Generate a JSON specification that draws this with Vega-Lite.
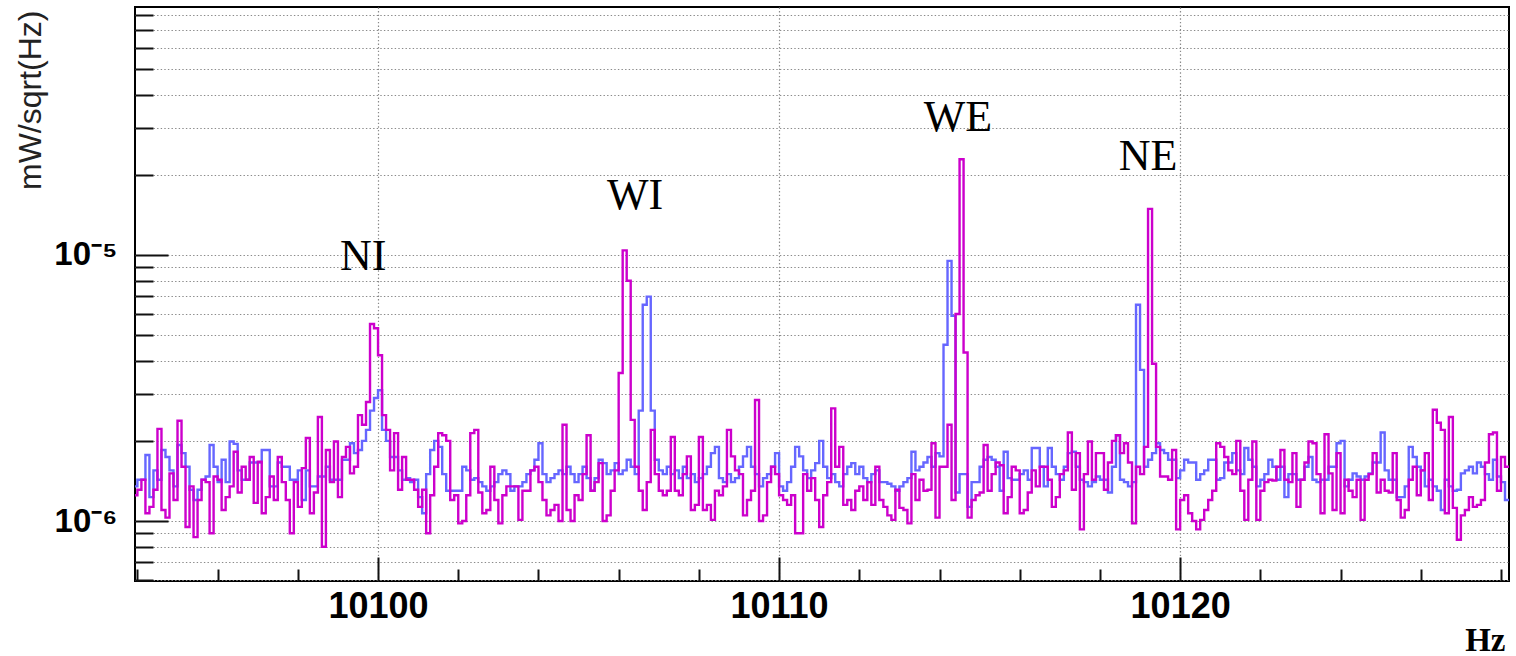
{
"$schema": "https://vega.github.io/schema/vega-lite/v6.json",
"width": 1374, "height": 574,
"autosize": {"type": "none"},
"padding": {"left": 135, "top": 7, "right": 7, "bottom": 75},
"background": "white",
"config": {
 "view": {"stroke": "#000", "strokeWidth": 2},
 "axis": {"domain": false, "gridColor": "#8a8a8a", "gridDash": [1.4, 2.2], "gridWidth": 1.2, "gridOpacity": 1, "tickColor": "#111", "tickWidth": 2}
},
"data": {"values": [
{"f":10093.9,"b":1.35e-6,"m":1.25e-6},{"f":10094.0,"b":1.43e-6,"m":1.31e-6},{"f":10094.1,"b":1.43e-6,"m":1.43e-6},{"f":10094.2,"b":1.77e-6,"m":1.07e-6},{"f":10094.3,"b":1.23e-6,"m":1.13e-6},
{"f":10094.4,"b":1.55e-6,"m":1.31e-6},{"f":10094.5,"b":1.43e-6,"m":2.22e-6},{"f":10094.6,"b":1.85e-6,"m":1.10e-6},{"f":10094.7,"b":1.74e-6,"m":1.03e-6},{"f":10094.8,"b":1.55e-6,"m":1.51e-6},
{"f":10094.9,"b":1.35e-6,"m":1.20e-6},{"f":10095.0,"b":1.93e-6,"m":2.38e-6},{"f":10095.1,"b":1.80e-6,"m":1.60e-6},{"f":10095.2,"b":1.60e-6,"m":0.95e-6},{"f":10095.3,"b":1.31e-6,"m":1.35e-6},
{"f":10095.4,"b":1.20e-6,"m":0.87e-6},{"f":10095.5,"b":1.31e-6,"m":1.20e-6},{"f":10095.6,"b":1.43e-6,"m":1.43e-6},{"f":10095.7,"b":1.47e-6,"m":1.40e-6},{"f":10095.8,"b":1.93e-6,"m":0.90e-6},
{"f":10095.9,"b":1.60e-6,"m":1.47e-6},{"f":10096.0,"b":1.40e-6,"m":1.43e-6},{"f":10096.1,"b":1.70e-6,"m":1.10e-6},{"f":10096.2,"b":1.40e-6,"m":1.23e-6},{"f":10096.3,"b":1.99e-6,"m":1.35e-6},
{"f":10096.4,"b":1.95e-6,"m":1.82e-6},{"f":10096.5,"b":1.55e-6,"m":1.28e-6},{"f":10096.6,"b":1.43e-6,"m":1.60e-6},{"f":10096.7,"b":1.43e-6,"m":1.43e-6},{"f":10096.8,"b":1.66e-6,"m":1.74e-6},
{"f":10096.9,"b":1.66e-6,"m":1.17e-6},{"f":10097.0,"b":1.66e-6,"m":1.67e-6},{"f":10097.1,"b":1.85e-6,"m":1.07e-6},{"f":10097.2,"b":1.85e-6,"m":1.23e-6},{"f":10097.3,"b":1.35e-6,"m":1.47e-6},
{"f":10097.4,"b":1.35e-6,"m":1.20e-6},{"f":10097.5,"b":1.66e-6,"m":1.74e-6},{"f":10097.6,"b":1.60e-6,"m":1.40e-6},{"f":10097.7,"b":1.60e-6,"m":1.20e-6},{"f":10097.8,"b":1.43e-6,"m":0.90e-6},
{"f":10097.9,"b":1.43e-6,"m":1.40e-6},{"f":10098.0,"b":1.55e-6,"m":1.13e-6},{"f":10098.1,"b":1.20e-6,"m":1.58e-6},{"f":10098.2,"b":1.55e-6,"m":2.05e-6},{"f":10098.3,"b":1.35e-6,"m":1.07e-6},
{"f":10098.4,"b":1.35e-6,"m":1.28e-6},{"f":10098.5,"b":1.47e-6,"m":2.46e-6},{"f":10098.6,"b":1.47e-6,"m":0.80e-6},{"f":10098.7,"b":1.60e-6,"m":1.85e-6},{"f":10098.8,"b":1.43e-6,"m":1.40e-6},
{"f":10098.9,"b":1.43e-6,"m":1.99e-6},{"f":10099.0,"b":1.43e-6,"m":1.23e-6},{"f":10099.1,"b":1.70e-6,"m":1.74e-6},{"f":10099.2,"b":1.70e-6,"m":1.90e-6},{"f":10099.3,"b":1.96e-6,"m":1.51e-6},
{"f":10099.4,"b":1.80e-6,"m":1.60e-6},{"f":10099.5,"b":1.85e-6,"m":2.50e-6},{"f":10099.6,"b":2.00e-6,"m":2.30e-6},{"f":10099.7,"b":2.20e-6,"m":2.80e-6},{"f":10099.8,"b":2.60e-6,"m":5.50e-6},
{"f":10099.9,"b":2.90e-6,"m":5.30e-6},{"f":10100.0,"b":3.10e-6,"m":4.20e-6},{"f":10100.1,"b":2.20e-6,"m":2.50e-6},{"f":10100.2,"b":2.00e-6,"m":2.20e-6},{"f":10100.3,"b":1.74e-6,"m":1.55e-6},
{"f":10100.4,"b":1.74e-6,"m":2.14e-6},{"f":10100.5,"b":1.55e-6,"m":1.31e-6},{"f":10100.6,"b":1.43e-6,"m":1.74e-6},{"f":10100.7,"b":1.45e-6,"m":1.43e-6},{"f":10100.8,"b":1.40e-6,"m":1.43e-6},
{"f":10100.9,"b":1.43e-6,"m":1.31e-6},{"f":10101.0,"b":1.23e-6,"m":1.13e-6},{"f":10101.1,"b":1.07e-6,"m":1.31e-6},{"f":10101.2,"b":1.50e-6,"m":0.90e-6},{"f":10101.3,"b":1.85e-6,"m":1.25e-6},
{"f":10101.4,"b":2.00e-6,"m":1.60e-6},{"f":10101.5,"b":1.90e-6,"m":2.14e-6},{"f":10101.6,"b":1.50e-6,"m":2.10e-6},{"f":10101.7,"b":1.30e-6,"m":2.00e-6},{"f":10101.8,"b":1.30e-6,"m":1.20e-6},
{"f":10101.9,"b":1.30e-6,"m":1.25e-6},{"f":10102.0,"b":1.30e-6,"m":0.98e-6},{"f":10102.1,"b":1.60e-6,"m":1.00e-6},{"f":10102.2,"b":1.55e-6,"m":1.25e-6},{"f":10102.3,"b":1.43e-6,"m":2.14e-6},
{"f":10102.4,"b":1.45e-6,"m":2.20e-6},{"f":10102.5,"b":1.40e-6,"m":1.28e-6},{"f":10102.6,"b":1.35e-6,"m":1.07e-6},{"f":10102.7,"b":1.30e-6,"m":1.10e-6},{"f":10102.8,"b":1.35e-6,"m":1.60e-6},
{"f":10102.9,"b":1.40e-6,"m":1.20e-6},{"f":10103.0,"b":1.50e-6,"m":0.98e-6},{"f":10103.1,"b":1.55e-6,"m":1.25e-6},{"f":10103.2,"b":1.50e-6,"m":1.35e-6},{"f":10103.3,"b":1.30e-6,"m":1.35e-6},
{"f":10103.4,"b":1.35e-6,"m":1.35e-6},{"f":10103.5,"b":1.35e-6,"m":1.01e-6},{"f":10103.6,"b":1.40e-6,"m":1.30e-6},{"f":10103.7,"b":1.50e-6,"m":1.30e-6},{"f":10103.8,"b":1.55e-6,"m":1.55e-6},
{"f":10103.9,"b":1.70e-6,"m":1.60e-6},{"f":10104.0,"b":1.96e-6,"m":1.40e-6},{"f":10104.1,"b":1.50e-6,"m":1.20e-6},{"f":10104.2,"b":1.40e-6,"m":1.05e-6},{"f":10104.3,"b":1.45e-6,"m":1.10e-6},
{"f":10104.4,"b":1.50e-6,"m":1.15e-6},{"f":10104.5,"b":1.55e-6,"m":1.00e-6},{"f":10104.6,"b":1.50e-6,"m":2.30e-6},{"f":10104.7,"b":1.60e-6,"m":1.10e-6},{"f":10104.8,"b":1.50e-6,"m":1.00e-6},
{"f":10104.9,"b":1.40e-6,"m":1.25e-6},{"f":10105.0,"b":1.50e-6,"m":1.20e-6},{"f":10105.1,"b":1.60e-6,"m":1.50e-6},{"f":10105.2,"b":1.45e-6,"m":2.10e-6},{"f":10105.3,"b":1.30e-6,"m":1.30e-6},
{"f":10105.4,"b":1.45e-6,"m":1.40e-6},{"f":10105.5,"b":1.70e-6,"m":1.65e-6},{"f":10105.6,"b":1.65e-6,"m":1.00e-6},{"f":10105.7,"b":1.50e-6,"m":1.05e-6},{"f":10105.8,"b":1.55e-6,"m":1.30e-6},
{"f":10105.9,"b":1.65e-6,"m":1.55e-6},{"f":10106.0,"b":1.50e-6,"m":3.60e-6},{"f":10106.1,"b":1.55e-6,"m":1.04e-5},{"f":10106.2,"b":1.70e-6,"m":8.00e-6},{"f":10106.3,"b":1.60e-6,"m":2.40e-6},
{"f":10106.4,"b":1.50e-6,"m":1.60e-6},{"f":10106.5,"b":2.60e-6,"m":1.30e-6},{"f":10106.6,"b":6.50e-6,"m":1.10e-6},{"f":10106.7,"b":6.97e-6,"m":1.40e-6},{"f":10106.8,"b":2.60e-6,"m":2.20e-6},
{"f":10106.9,"b":1.70e-6,"m":1.50e-6},{"f":10107.0,"b":1.55e-6,"m":1.30e-6},{"f":10107.1,"b":1.50e-6,"m":1.25e-6},{"f":10107.2,"b":1.60e-6,"m":1.30e-6},{"f":10107.3,"b":1.50e-6,"m":2.07e-6},
{"f":10107.4,"b":1.55e-6,"m":1.30e-6},{"f":10107.5,"b":1.45e-6,"m":1.25e-6},{"f":10107.6,"b":1.60e-6,"m":1.50e-6},{"f":10107.7,"b":1.45e-6,"m":1.75e-6},{"f":10107.8,"b":1.50e-6,"m":1.10e-6},
{"f":10107.9,"b":1.40e-6,"m":1.15e-6},{"f":10108.0,"b":1.45e-6,"m":2.07e-6},{"f":10108.1,"b":1.50e-6,"m":1.10e-6},{"f":10108.2,"b":1.60e-6,"m":1.15e-6},{"f":10108.3,"b":1.80e-6,"m":1.01e-6},
{"f":10108.4,"b":1.90e-6,"m":1.30e-6},{"f":10108.5,"b":1.45e-6,"m":1.25e-6},{"f":10108.6,"b":1.40e-6,"m":1.35e-6},{"f":10108.7,"b":1.50e-6,"m":2.20e-6},{"f":10108.8,"b":1.40e-6,"m":1.75e-6},
{"f":10108.9,"b":1.45e-6,"m":1.55e-6},{"f":10109.0,"b":1.60e-6,"m":1.50e-6},{"f":10109.1,"b":1.75e-6,"m":1.05e-6},{"f":10109.2,"b":1.90e-6,"m":1.20e-6},{"f":10109.3,"b":1.60e-6,"m":1.30e-6},
{"f":10109.4,"b":1.50e-6,"m":2.85e-6},{"f":10109.5,"b":1.35e-6,"m":1.00e-6},{"f":10109.6,"b":1.45e-6,"m":1.05e-6},{"f":10109.7,"b":1.50e-6,"m":1.40e-6},{"f":10109.8,"b":1.60e-6,"m":1.60e-6},
{"f":10109.9,"b":1.80e-6,"m":1.50e-6},{"f":10110.0,"b":1.35e-6,"m":1.25e-6},{"f":10110.1,"b":1.30e-6,"m":1.20e-6},{"f":10110.2,"b":1.40e-6,"m":1.15e-6},{"f":10110.3,"b":1.60e-6,"m":1.25e-6},
{"f":10110.4,"b":1.90e-6,"m":0.90e-6},{"f":10110.5,"b":1.75e-6,"m":0.90e-6},{"f":10110.6,"b":1.55e-6,"m":1.50e-6},{"f":10110.7,"b":1.45e-6,"m":1.30e-6},{"f":10110.8,"b":1.55e-6,"m":1.45e-6},
{"f":10110.9,"b":1.65e-6,"m":1.20e-6},{"f":10111.0,"b":2.00e-6,"m":0.95e-6},{"f":10111.1,"b":1.60e-6,"m":1.25e-6},{"f":10111.2,"b":1.45e-6,"m":1.40e-6},{"f":10111.3,"b":1.50e-6,"m":2.65e-6},
{"f":10111.4,"b":1.40e-6,"m":1.60e-6},{"f":10111.5,"b":1.35e-6,"m":1.90e-6},{"f":10111.6,"b":1.50e-6,"m":1.15e-6},{"f":10111.7,"b":1.60e-6,"m":1.20e-6},{"f":10111.8,"b":1.65e-6,"m":1.10e-6},
{"f":10111.9,"b":1.50e-6,"m":1.30e-6},{"f":10112.0,"b":1.60e-6,"m":1.35e-6},{"f":10112.1,"b":1.45e-6,"m":1.20e-6},{"f":10112.2,"b":1.40e-6,"m":1.40e-6},{"f":10112.3,"b":1.50e-6,"m":1.15e-6},
{"f":10112.4,"b":1.55e-6,"m":1.60e-6},{"f":10112.5,"b":1.40e-6,"m":1.20e-6},{"f":10112.6,"b":1.40e-6,"m":1.13e-6},{"f":10112.7,"b":1.38e-6,"m":1.05e-6},{"f":10112.8,"b":1.35e-6,"m":1.01e-6},
{"f":10112.9,"b":1.30e-6,"m":1.31e-6},{"f":10113.0,"b":1.35e-6,"m":1.12e-6},{"f":10113.1,"b":1.40e-6,"m":1.10e-6},{"f":10113.2,"b":1.45e-6,"m":0.98e-6},{"f":10113.3,"b":1.82e-6,"m":1.50e-6},
{"f":10113.4,"b":1.55e-6,"m":1.20e-6},{"f":10113.5,"b":1.60e-6,"m":1.43e-6},{"f":10113.6,"b":1.66e-6,"m":1.30e-6},{"f":10113.7,"b":1.74e-6,"m":1.31e-6},{"f":10113.8,"b":1.60e-6,"m":1.96e-6},
{"f":10113.9,"b":1.80e-6,"m":1.03e-6},{"f":10114.0,"b":1.75e-6,"m":1.60e-6},{"f":10114.1,"b":4.60e-6,"m":1.60e-6},{"f":10114.2,"b":9.50e-6,"m":2.30e-6},{"f":10114.3,"b":5.90e-6,"m":1.20e-6},
{"f":10114.4,"b":1.28e-6,"m":6.00e-6},{"f":10114.5,"b":1.50e-6,"m":2.29e-5},{"f":10114.6,"b":1.50e-6,"m":4.30e-6},{"f":10114.7,"b":1.13e-6,"m":1.03e-6},{"f":10114.8,"b":1.40e-6,"m":1.20e-6},
{"f":10114.9,"b":1.40e-6,"m":1.25e-6},{"f":10115.0,"b":1.60e-6,"m":1.28e-6},{"f":10115.1,"b":1.70e-6,"m":1.93e-6},{"f":10115.2,"b":1.74e-6,"m":1.30e-6},{"f":10115.3,"b":1.70e-6,"m":1.50e-6},
{"f":10115.4,"b":1.60e-6,"m":1.66e-6},{"f":10115.5,"b":1.30e-6,"m":1.62e-6},{"f":10115.6,"b":1.82e-6,"m":1.07e-6},{"f":10115.7,"b":1.45e-6,"m":1.23e-6},{"f":10115.8,"b":1.43e-6,"m":1.60e-6},
{"f":10115.9,"b":1.43e-6,"m":1.55e-6},{"f":10116.0,"b":1.50e-6,"m":1.07e-6},{"f":10116.1,"b":1.55e-6,"m":1.10e-6},{"f":10116.2,"b":1.43e-6,"m":1.28e-6},{"f":10116.3,"b":1.88e-6,"m":1.55e-6},
{"f":10116.4,"b":1.88e-6,"m":1.35e-6},{"f":10116.5,"b":1.60e-6,"m":1.60e-6},{"f":10116.6,"b":1.35e-6,"m":1.60e-6},{"f":10116.7,"b":1.88e-6,"m":1.43e-6},{"f":10116.8,"b":1.60e-6,"m":1.13e-6},
{"f":10116.9,"b":1.50e-6,"m":1.23e-6},{"f":10117.0,"b":1.43e-6,"m":1.50e-6},{"f":10117.1,"b":1.60e-6,"m":1.55e-6},{"f":10117.2,"b":1.80e-6,"m":2.15e-6},{"f":10117.3,"b":1.82e-6,"m":1.31e-6},
{"f":10117.4,"b":1.60e-6,"m":1.80e-6},{"f":10117.5,"b":1.43e-6,"m":0.93e-6},{"f":10117.6,"b":1.40e-6,"m":1.50e-6},{"f":10117.7,"b":1.35e-6,"m":1.99e-6},{"f":10117.8,"b":1.40e-6,"m":1.43e-6},
{"f":10117.9,"b":1.47e-6,"m":1.80e-6},{"f":10118.0,"b":1.43e-6,"m":1.80e-6},{"f":10118.1,"b":1.43e-6,"m":1.31e-6},{"f":10118.2,"b":1.28e-6,"m":1.66e-6},{"f":10118.3,"b":1.60e-6,"m":2.00e-6},
{"f":10118.4,"b":2.10e-6,"m":2.10e-6},{"f":10118.5,"b":1.43e-6,"m":1.80e-6},{"f":10118.6,"b":1.40e-6,"m":1.96e-6},{"f":10118.7,"b":1.35e-6,"m":1.66e-6},{"f":10118.8,"b":1.40e-6,"m":0.98e-6},
{"f":10118.9,"b":6.50e-6,"m":1.60e-6},{"f":10119.0,"b":3.70e-6,"m":1.50e-6},{"f":10119.1,"b":1.60e-6,"m":1.90e-6},{"f":10119.2,"b":1.70e-6,"m":1.49e-5},{"f":10119.3,"b":1.80e-6,"m":3.90e-6},
{"f":10119.4,"b":1.96e-6,"m":1.90e-6},{"f":10119.5,"b":1.85e-6,"m":1.47e-6},{"f":10119.6,"b":1.80e-6,"m":1.47e-6},{"f":10119.7,"b":1.70e-6,"m":1.43e-6},{"f":10119.8,"b":1.70e-6,"m":1.85e-6},
{"f":10119.9,"b":1.45e-6,"m":0.93e-6},{"f":10120.0,"b":1.55e-6,"m":1.20e-6},{"f":10120.1,"b":1.70e-6,"m":1.25e-6},{"f":10120.2,"b":1.66e-6,"m":1.07e-6},{"f":10120.3,"b":1.66e-6,"m":1.00e-6},
{"f":10120.4,"b":1.43e-6,"m":0.93e-6},{"f":10120.5,"b":1.50e-6,"m":1.01e-6},{"f":10120.6,"b":1.55e-6,"m":1.10e-6},{"f":10120.7,"b":1.70e-6,"m":1.20e-6},{"f":10120.8,"b":1.70e-6,"m":1.30e-6},
{"f":10120.9,"b":1.43e-6,"m":1.96e-6},{"f":10121.0,"b":1.45e-6,"m":1.90e-6},{"f":10121.1,"b":1.66e-6,"m":1.74e-6},{"f":10121.2,"b":1.66e-6,"m":1.55e-6},{"f":10121.3,"b":1.80e-6,"m":1.50e-6},
{"f":10121.4,"b":1.55e-6,"m":2.00e-6},{"f":10121.5,"b":1.50e-6,"m":1.30e-6},{"f":10121.6,"b":1.88e-6,"m":1.01e-6},{"f":10121.7,"b":1.70e-6,"m":1.43e-6},{"f":10121.8,"b":1.60e-6,"m":1.99e-6},
{"f":10121.9,"b":1.35e-6,"m":1.01e-6},{"f":10122.0,"b":1.43e-6,"m":1.30e-6},{"f":10122.1,"b":1.50e-6,"m":1.40e-6},{"f":10122.2,"b":1.70e-6,"m":1.43e-6},{"f":10122.3,"b":1.60e-6,"m":1.42e-6},
{"f":10122.4,"b":1.43e-6,"m":1.60e-6},{"f":10122.5,"b":1.60e-6,"m":1.85e-6},{"f":10122.6,"b":1.23e-6,"m":1.43e-6},{"f":10122.7,"b":1.50e-6,"m":1.40e-6},{"f":10122.8,"b":1.50e-6,"m":1.80e-6},
{"f":10122.9,"b":1.43e-6,"m":1.13e-6},{"f":10123.0,"b":1.43e-6,"m":1.43e-6},{"f":10123.1,"b":1.60e-6,"m":1.66e-6},{"f":10123.2,"b":1.74e-6,"m":1.99e-6},{"f":10123.3,"b":1.43e-6,"m":1.96e-6},
{"f":10123.4,"b":1.40e-6,"m":1.50e-6},{"f":10123.5,"b":1.43e-6,"m":1.07e-6},{"f":10123.6,"b":1.43e-6,"m":2.12e-6},{"f":10123.7,"b":1.60e-6,"m":1.51e-6},{"f":10123.8,"b":1.60e-6,"m":1.10e-6},
{"f":10123.9,"b":1.96e-6,"m":1.80e-6},{"f":10124.0,"b":2.00e-6,"m":1.07e-6},{"f":10124.1,"b":1.35e-6,"m":1.43e-6},{"f":10124.2,"b":1.43e-6,"m":1.30e-6},{"f":10124.3,"b":1.51e-6,"m":1.23e-6},
{"f":10124.4,"b":1.47e-6,"m":1.43e-6},{"f":10124.5,"b":1.43e-6,"m":1.01e-6},{"f":10124.6,"b":1.47e-6,"m":1.43e-6},{"f":10124.7,"b":1.51e-6,"m":1.50e-6},{"f":10124.8,"b":1.66e-6,"m":1.80e-6},
{"f":10124.9,"b":1.66e-6,"m":1.28e-6},{"f":10125.0,"b":2.15e-6,"m":1.43e-6},{"f":10125.1,"b":1.55e-6,"m":1.30e-6},{"f":10125.2,"b":1.43e-6,"m":1.28e-6},{"f":10125.3,"b":1.43e-6,"m":1.80e-6},
{"f":10125.4,"b":1.23e-6,"m":1.20e-6},{"f":10125.5,"b":1.23e-6,"m":1.03e-6},{"f":10125.6,"b":1.35e-6,"m":1.10e-6},{"f":10125.7,"b":1.90e-6,"m":1.43e-6},{"f":10125.8,"b":1.74e-6,"m":1.60e-6},
{"f":10125.9,"b":1.60e-6,"m":1.25e-6},{"f":10126.0,"b":1.55e-6,"m":1.55e-6},{"f":10126.1,"b":1.35e-6,"m":1.80e-6},{"f":10126.2,"b":1.43e-6,"m":1.20e-6},{"f":10126.3,"b":1.35e-6,"m":2.62e-6},
{"f":10126.4,"b":1.30e-6,"m":2.34e-6},{"f":10126.5,"b":1.10e-6,"m":2.20e-6},{"f":10126.6,"b":1.43e-6,"m":1.07e-6},{"f":10126.7,"b":1.35e-6,"m":2.46e-6},{"f":10126.8,"b":1.30e-6,"m":1.12e-6},
{"f":10126.9,"b":1.31e-6,"m":0.85e-6},{"f":10127.0,"b":1.51e-6,"m":1.05e-6},{"f":10127.1,"b":1.55e-6,"m":1.10e-6},{"f":10127.2,"b":1.60e-6,"m":1.23e-6},{"f":10127.3,"b":1.51e-6,"m":1.13e-6},
{"f":10127.4,"b":1.66e-6,"m":1.15e-6},{"f":10127.5,"b":1.60e-6,"m":1.20e-6},{"f":10127.6,"b":1.50e-6,"m":1.66e-6},{"f":10127.7,"b":1.43e-6,"m":2.12e-6},{"f":10127.8,"b":1.70e-6,"m":2.15e-6},
{"f":10127.9,"b":1.47e-6,"m":1.30e-6},{"f":10128.0,"b":1.40e-6,"m":1.74e-6},{"f":10128.1,"b":1.20e-6,"m":1.60e-6},{"f":10128.2,"b":1.20e-6,"m":1.60e-6}
]},
"layer": [
 {
  "mark": {"type": "line", "interpolate": "step-after", "color": "#6666ff", "strokeWidth": 2.4, "clip": true},
  "encoding": {
   "x": {"field": "f", "type": "quantitative",
    "scale": {"domain": [10093.94, 10128.2], "nice": false, "zero": false},
    "axis": {"values": [10100, 10110, 10120], "format": "d", "orient": "bottom", "tickSize": -24, "labelPadding": 32,
     "labelFont": "Liberation Sans", "labelFontWeight": "bold", "labelFontSize": 36, "labelColor": "#000",
     "grid": true, "title": "Hz", "titleFont": "Liberation Serif", "titleFontWeight": "bold", "titleFontSize": 33,
     "titleColor": "#000", "titleAlign": "right", "titleBaseline": "alphabetic", "titleX": 1370, "titleY": 69}},
   "y": {"field": "b", "type": "quantitative",
    "scale": {"type": "log", "domain": [5.95e-7, 8.55e-5], "nice": false},
    "axis": {"values": [1e-6, 1e-5], "labelExpr": "datum.value < 3e-6 ? '10⁻⁶' : '10⁻⁵'", "orient": "left",
     "tickSize": -33, "labelPadding": 51, "labelFont": "Liberation Sans", "labelFontWeight": "bold", "labelFontSize": 33,
     "labelColor": "#000", "grid": true, "title": "mW/sqrt(Hz)", "titleFont": "Liberation Sans", "titleFontWeight": "normal",
     "titleFontSize": 32, "titleColor": "#222", "titleAngle": -90, "titleAlign": "right", "titleBaseline": "alphabetic",
     "titleX": -95, "titleY": 3}}
  }
 },
 {
  "mark": {"type": "line", "interpolate": "step-after", "color": "#cc00cc", "strokeWidth": 2.4, "clip": true},
  "encoding": {
   "x": {"field": "f", "type": "quantitative",
    "axis": {"values": [10094, 10096, 10098, 10102, 10104, 10106, 10108, 10112, 10114, 10116, 10118, 10122, 10124, 10126, 10128],
     "orient": "bottom", "tickSize": -12, "labels": false, "grid": false, "title": null}},
   "y": {"field": "m", "type": "quantitative",
    "axis": {"values": [6e-7, 7e-7, 8e-7, 9e-7, 2e-6, 3e-6, 4e-6, 5e-6, 6e-6, 7e-6, 8e-6, 9e-6, 2e-5, 3e-5, 4e-5, 5e-5, 6e-5, 7e-5, 8e-5],
     "orient": "left", "tickSize": -18, "labels": false, "grid": true, "title": null}}
  }
 },
 {
  "data": {"values": [
   {"f": 10099.63, "v": 8.78e-6, "t": "NI"},
   {"f": 10106.41, "v": 1.49e-5, "t": "WI"},
   {"f": 10114.46, "v": 2.92e-5, "t": "WE"},
   {"f": 10119.20, "v": 2.09e-5, "t": "NE"}
  ]},
  "mark": {"type": "text", "font": "Liberation Serif", "fontSize": 44, "align": "center", "baseline": "alphabetic", "color": "#000"},
  "encoding": {
   "x": {"field": "f", "type": "quantitative", "axis": null},
   "y": {"field": "v", "type": "quantitative", "axis": null},
   "text": {"field": "t", "type": "nominal"}
  }
 }
],
"resolve": {"axis": {"x": "independent", "y": "independent"}}
}
